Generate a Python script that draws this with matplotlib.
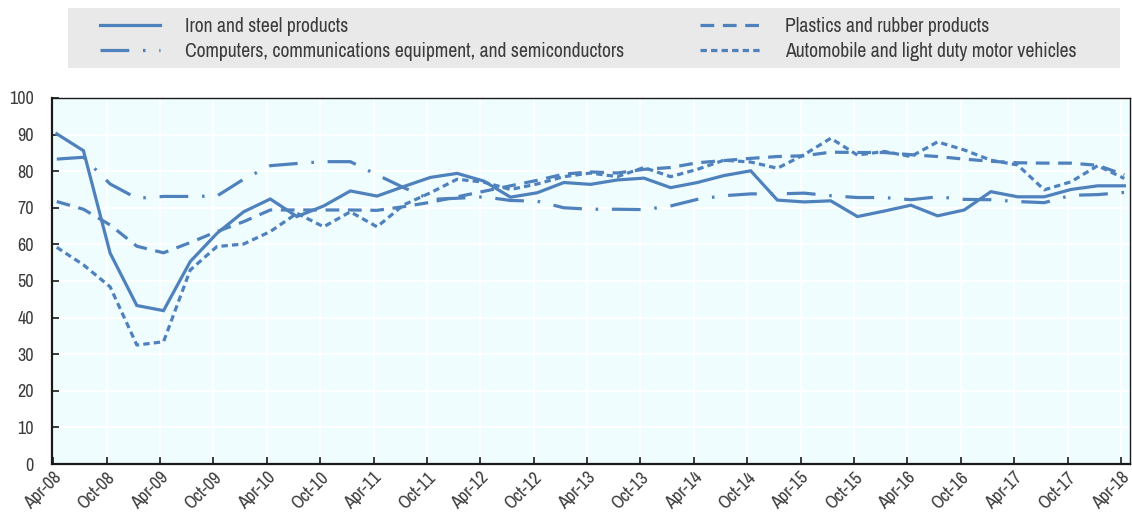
import numpy as np
import matplotlib
matplotlib.use("Agg")
import matplotlib.pyplot as plt
from matplotlib.patches import Rectangle
from matplotlib import font_manager

# ---------------- data ----------------
quarters = ["Apr-08", "Jul-08", "Oct-08", "Jan-09", "Apr-09", "Jul-09", "Oct-09", "Jan-10",
            "Apr-10", "Jul-10", "Oct-10", "Jan-11", "Apr-11", "Jul-11", "Oct-11", "Jan-12",
            "Apr-12", "Jul-12", "Oct-12", "Jan-13", "Apr-13", "Jul-13", "Oct-13", "Jan-14",
            "Apr-14", "Jul-14", "Oct-14", "Jan-15", "Apr-15", "Jul-15", "Oct-15", "Jan-16",
            "Apr-16", "Jul-16", "Oct-16", "Jan-17", "Apr-17", "Jul-17", "Oct-17", "Jan-18",
            "Apr-18"]

iron_steel = [90.2, 85.6, 57.6, 43.3, 41.9, 55.3, 63.0, 68.9, 72.4, 67.6, 70.5, 74.6, 73.2,
              75.8, 78.3, 79.4, 77.3, 72.9, 74.1, 76.9, 76.4, 77.6, 78.1, 75.5, 76.9, 78.8,
              80.1, 72.1, 71.6, 71.9, 67.6, 69.1, 70.7, 67.8, 69.4, 74.4, 73.0, 73.0, 75.0,
              76.0, 76.0]

computers = [83.3, 83.8, 76.5, 72.6, 73.1, 73.1, 73.2, 77.8, 81.5, 82.1, 82.6, 82.6, 79.0,
             75.5, 72.3, 72.6, 73.0, 72.0, 71.8, 70.0, 69.6, 69.6, 69.5, 70.5, 72.3, 73.3,
             73.8, 73.8, 74.0, 73.3, 72.8, 72.8, 72.2, 73.0, 72.3, 72.2, 71.7, 71.4, 73.4,
             73.6, 74.2]

plastics = [71.7, 69.6, 65.3, 59.5, 57.7, 60.5, 63.5, 66.2, 69.4, 69.4, 69.4, 69.4, 69.3,
            70.3, 71.5, 73.0, 74.5, 76.0, 77.5, 79.2, 79.8, 79.5, 80.5, 81.0, 82.3, 82.9,
            83.5, 84.0, 84.2, 85.2, 85.1, 85.1, 84.5, 84.0, 83.3, 82.7, 82.3, 82.2, 82.2,
            81.6, 79.0]

autos = [59.2, 54.4, 48.4, 32.5, 33.4, 53.0, 59.4, 60.1, 63.5, 68.5, 64.8, 68.9, 64.8,
         70.8, 74.1, 77.8, 77.0, 75.0, 76.5, 78.5, 79.5, 78.5, 81.0, 78.5, 80.5, 83.0,
         82.5, 80.8, 84.5, 89.0, 84.4, 85.4, 84.0, 88.0, 85.8, 83.0, 81.7, 74.9, 77.1,
         81.5, 78.0]

series_names = ["Iron and steel products",
                "Computers, communications equipment, and semiconductors",
                "Plastics and rubber products",
                "Automobile and light duty motor vehicles"]

yticks = [0, 10, 20, 30, 40, 50, 60, 70, 80, 90, 100]

# ---------------- style ----------------
installed = {f.name for f in font_manager.fontManager.ttflist}
narrow = "Liberation Sans"
for cand in ["Nimbus Sans Narrow", "Liberation Sans Narrow", "Arial Narrow",
             "Archivo Narrow", "PT Sans Narrow", "Roboto Condensed"]:
    if cand in installed:
        narrow = cand
        break
plt.rcParams["font.family"] = [narrow, "DejaVu Sans"]

line_color = "#4F81BD"
text_color = "#3C3C3C"
lw = 2.3
fs = 13
fs_leg = 14.2

fig = plt.figure(figsize=(11.32, 5.17), dpi=100)
ax = fig.add_axes([0.0459, 0.1025, 0.9523, 0.708])
ax.set_facecolor("#F0FDFF")

x = np.arange(len(quarters)) + 0.13

styles = [
    dict(linestyle="-"),
    dict(linestyle=(0, (9, 4.3, 0.8, 4.3))),
    dict(linestyle=(0, (4.3, 2.7))),
    dict(linestyle=(0, (2.0, 1.3))),
]
handles = []
for vals, name, st in zip([iron_steel, computers, plastics, autos], series_names, styles):
    h, = ax.plot(x, vals, color=line_color, lw=lw, label=name,
                 solid_joinstyle="miter", dash_capstyle="butt", **st)
    handles.append(h)

ax.set_xlim(-0.05, 40.34)
ax.set_ylim(0, 100)
ax.set_yticks(yticks)
ax.set_yticklabels([str(v) for v in yticks])
tick_pos = list(range(0, len(quarters), 2))
ax.set_xticks(tick_pos)
ax.set_xticklabels([quarters[i] for i in tick_pos], rotation=45, ha="right", va="top",
                   rotation_mode="anchor")

ax.grid(True, color="white", lw=1.4)
ax.set_axisbelow(True)
for s in ax.spines.values():
    s.set_color("#1a1a1a")
    s.set_linewidth(1.0)
ax.spines["bottom"].set_linewidth(1.6)
ax.spines["left"].set_linewidth(1.6)

ax.tick_params(axis="both", direction="in", length=5, width=1.2, color="#1a1a1a",
               labelsize=fs, labelcolor=text_color)
ax.tick_params(axis="y", pad=13)
ax.tick_params(axis="x", pad=4)

# legend background
fig.patches.append(Rectangle((68 / 1132, 1 - 68 / 517), (1120 - 68) / 1132, 60 / 517,
                             transform=fig.transFigure, facecolor="#E9E9E9",
                             edgecolor="none", zorder=0))

leg_kw = dict(frameon=False, fontsize=fs_leg, handlelength=3.05, handletextpad=1.25,
              labelspacing=0.3, borderpad=0, borderaxespad=0, labelcolor=text_color,
              loc="upper left")
leg1 = fig.legend(handles=[handles[0], handles[1]], bbox_to_anchor=(100 / 1132, 1 - 17 / 517),
                  **leg_kw)
leg2 = fig.legend(handles=[handles[2], handles[3]], bbox_to_anchor=(700 / 1132, 1 - 17 / 517),
                  **leg_kw)

fig.savefig("out.png", dpi=100)
